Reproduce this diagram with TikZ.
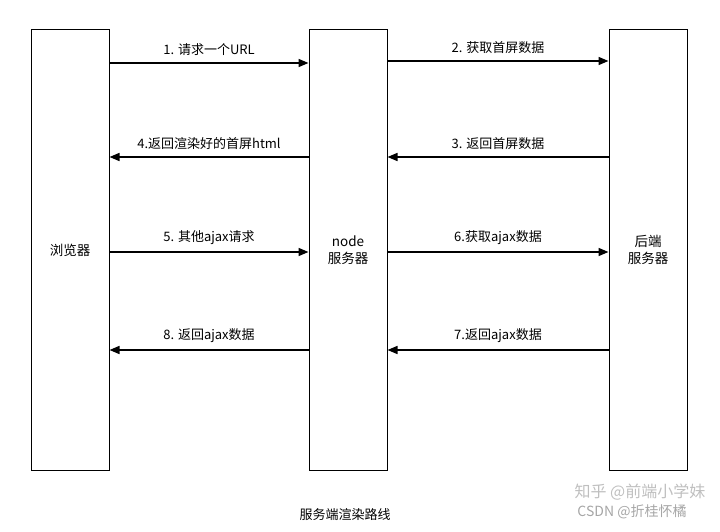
\documentclass[tikz,border=0pt]{standalone}
\usepackage{fontspec}
\setmainfont{Noto Sans CJK SC}
\usetikzlibrary{arrows.meta, positioning}

\tikzset{
    lane/.style={draw, line width=1pt, minimum width=78pt, minimum height=440pt, inner sep=0pt, font=\fontsize{13.5}{17}\selectfont},
    msg/.style={line width=1.6pt, -{Triangle[length=10pt,width=8pt]}},
    lbl/.style={above=3pt, font=\fontsize{13}{15}\selectfont}
}

\begin{document}
\begin{tikzpicture}[x=1pt,y=-1pt]
    \useasboundingbox (0,0) rectangle (720,532);
    \node[lane] (browser) at (70,250) {浏览器};
    \node[lane, align=center] (server) at (348,250) {node\\服务器};
    \node[lane, align=center] (backend) at (648,250) {后端\\服务器};
    % Requests
    \draw[msg] (browser.east |- 0,63) -- node[lbl] {1. 请求一个URL} (server.west |- 0,63);
    \draw[msg] (server.east |- 0,61) -- node[lbl] {2. 获取首屏数据} (backend.west |- 0,61);
    \draw[msg] (backend.west |- 0,157) -- node[lbl] {3. 返回首屏数据} (server.east |- 0,157);
    \draw[msg] (server.west |- 0,157) -- node[lbl] {4.返回渲染好的首屏html} (browser.east |- 0,157);
    \draw[msg] (browser.east |- 0,252) -- node[lbl] {5. 其他ajax请求} (server.west |- 0,252);
    \draw[msg] (server.east |- 0,252) -- node[lbl] {6.获取ajax数据} (backend.west |- 0,252);
    \draw[msg] (backend.west |- 0,350) -- node[lbl] {7.返回ajax数据} (server.east |- 0,350);
    \draw[msg] (server.west |- 0,350) -- node[lbl] {8. 返回ajax数据} (browser.east |- 0,350);
    % Caption
    \node[font=\fontsize{13}{15}\selectfont] (caption) at (345,515) {服务端渲染路线};
    \node[text=black!25, font=\fontsize{16}{18}\selectfont] (mark1) at (640,492) {知乎 @前端小学妹};
    \node[text=black!35, font=\fontsize{14}{16}\selectfont] (mark2) at (632,512) {CSDN @折桂怀橘};
\end{tikzpicture}
\end{document}
